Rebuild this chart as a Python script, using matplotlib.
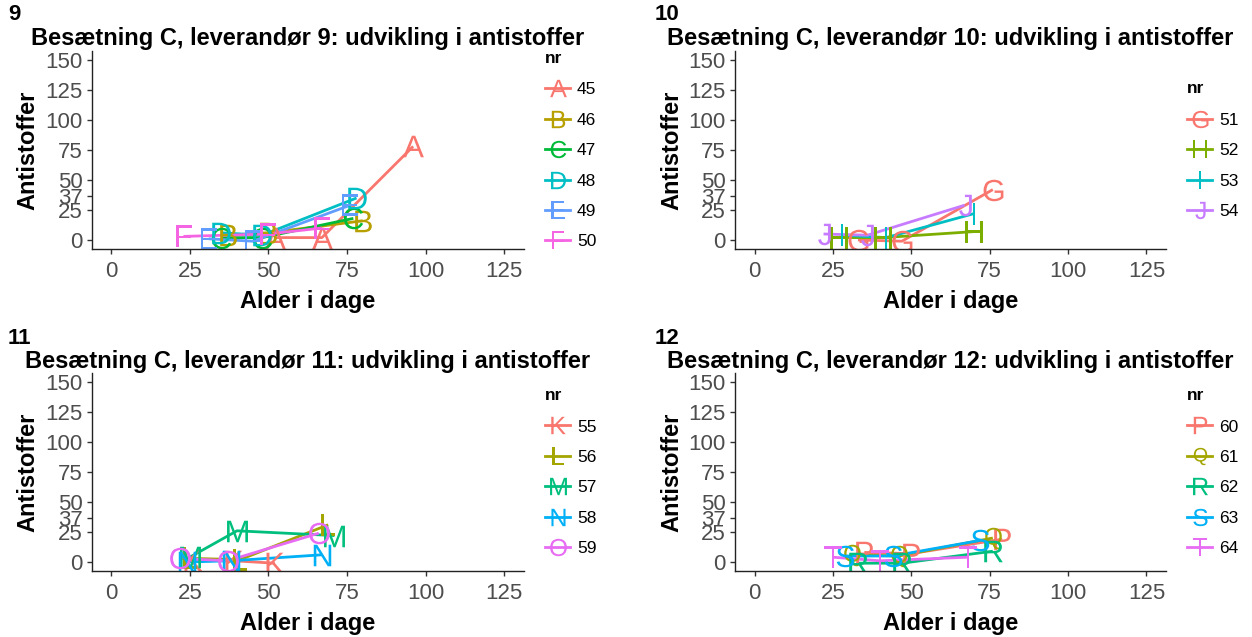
import matplotlib
matplotlib.use("Agg")
import matplotlib.pyplot as plt
from matplotlib.lines import Line2D

plt.rcParams["font.family"] = ["Liberation Sans", "DejaVu Sans"]
plt.rcParams["mathtext.fontset"] = "custom"
plt.rcParams["mathtext.sf"] = "Liberation Sans"
plt.rcParams["mathtext.rm"] = "Liberation Sans"

# panel tags / suppliers
tags = ["9", "10", "11", "12"]
titles = ["Besætning C, leverandør %s: udvikling i antistoffer" % t for t in tags]

# series per panel: nr, letter, ages, antibody values
nr_9 = [45, 46, 47, 48, 49, 50]
letters_9 = ["A", "B", "C", "D", "E", "F"]
ages_9 = [[52, 67, 96], [37, 50, 80], [35, 48, 77], [35, 48, 78], [31, 45, 76], [23, 50, 67]]
vals_9 = [[2, 2, 78], [4, 6, 16], [2, 2, 18], [6, 4, 35], [1, -1, 29], [3, 5, 10]]

nr_10 = [51, 52, 53, 54]
letters_10 = ["G", "H", "I", "J"]
ages_10 = [[33, 47, 76], [27, 41, 70], [28, 42, 70], [22, 36, 67]]
vals_10 = [[0, -1, 42], [2, 2, 7], [4, 2, 22], [5, 4, 29]]

nr_11 = [55, 56, 57, 58, 59]
letters_11 = ["K", "L", "M", "N", "O"]
ages_11 = [[26, 39, 52], [25, 41, 69], [25, 40, 71], [24, 38, 67], [22, 37, 66]]
vals_11 = [[2, 1, -1], [3, 2, 31], [4, 26, 22], [0, 1, 6], [3, 1, 24]]

nr_12 = [60, 61, 62, 63, 64]
letters_12 = ["P", "Q", "R", "S", "T"]
ages_12 = [[35, 50, 79], [31, 46, 76], [33, 47, 76], [29, 44, 72], [25, 40, 68]]
vals_12 = [[8, 7, 19], [6, 5, 20], [-1, -1, 9], [5, 5, 18], [4, 1, 4]]

x_ticks = [0, 25, 50, 75, 100, 125]
y_ticks = [0, 25, 37, 50, 75, 100, 125, 150]

# ggplot hue palettes
hue = {
    4: ["#F8766D", "#7CAE00", "#00BFC4", "#C77CFF"],
    5: ["#F8766D", "#A3A500", "#00BF7D", "#00B0F6", "#E76BF3"],
    6: ["#F8766D", "#B79F00", "#00BA38", "#00BFC4", "#619CFF", "#F564E3"],
}

W, H = 1252, 637
fig = plt.figure(figsize=(W / 100, H / 100), dpi=100)

# pixel boxes: left, right, top, bottom
boxes = [(91.5, 524, 51, 249), (735, 1166, 51, 249),
         (91.5, 524, 373, 571), (735, 1166, 373, 571)]
tag_pos = [(8, 15), (655, 15), (8, 338), (655, 338)]

panels = [(nr_9, letters_9, ages_9, vals_9), (nr_10, letters_10, ages_10, vals_10),
          (nr_11, letters_11, ages_11, vals_11), (nr_12, letters_12, ages_12, vals_12)]

for k, (nrs, lets, ages, vals) in enumerate(panels):
    l, r, t, b = boxes[k]
    ax = fig.add_axes([l / W, 1 - b / H, (r - l) / W, (b - t) / H])
    cols = hue[len(nrs)]
    for i in range(len(nrs)):
        ax.plot(ages[i], vals[i], color=cols[i], lw=2, solid_capstyle="butt")
    handles = []
    for i in range(len(nrs)):
        mk = r"$\mathsf{%s}$" % lets[i]
        ax.plot(ages[i], vals[i], ls="none", marker=mk, ms=15.5, color=cols[i], mew=0)
        handles.append(Line2D([], [], color=cols[i], lw=2, marker=mk, ms=12.5, mew=0))

    ax.set_xlim(-6.25, 131.25)
    ax.set_ylim(-7.5, 157.5)
    ax.set_xticks(x_ticks)
    ax.set_yticks(y_ticks)
    ax.tick_params(labelsize=16, labelcolor="#4D4D4D", color="#333333",
                   length=3.5, width=1, pad=3)
    ax.tick_params(axis="x", pad=5)
    for s in ["top", "right"]:
        ax.spines[s].set_visible(False)
    for s in ["left", "bottom"]:
        ax.spines[s].set_linewidth(1)
        ax.spines[s].set_color("#222222")
    ax.set_xlabel("Alder i dage", fontsize=17, fontweight="bold", labelpad=6)
    ax.set_ylabel("Antistoffer", fontsize=17, fontweight="bold", labelpad=4)

    fig.text(((l + r) / 2) / W, 1 - (t - 12) / H, titles[k], ha="center", va="center",
             fontsize=17, fontweight="bold")
    fig.text(tag_pos[k][0] / W, 1 - tag_pos[k][1] / H, tags[k], ha="left", va="center",
             fontsize=16, fontweight="bold")

    leg = ax.legend(handles, [str(n) for n in nrs], title="nr", loc="center left",
                    bbox_to_anchor=(1 + 21 / (r - l), 0.5), frameon=False,
                    fontsize=12.5, title_fontproperties={"weight": "bold", "size": 12.5},
                    handlelength=1.45, handletextpad=0.4, labelspacing=0.88,
                    alignment="left", borderpad=0, borderaxespad=0)
    leg._legend_box.sep = 12  # gap between "nr" and first key

fig.savefig("out.png", dpi=100)
